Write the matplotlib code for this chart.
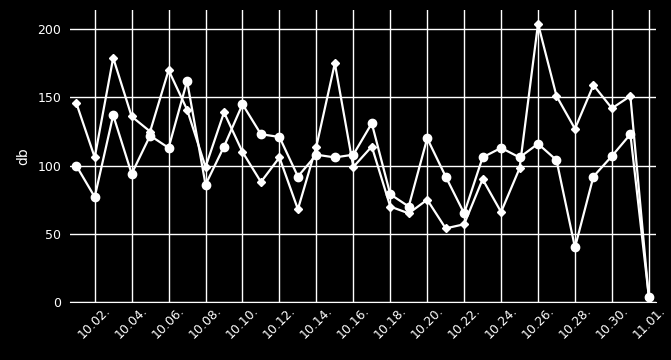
import datetime as dt
import matplotlib
matplotlib.use("Agg")
import matplotlib.pyplot as plt
import matplotlib.dates as mdates

# days 10.01. .. 11.01.
start = dt.date(2023, 10, 1)
days = [start + dt.timedelta(days=i) for i in range(32)]

circle_vals = [100, 77, 137, 94, 122, 113, 162, 86, 114, 145,
               123, 121, 92, 108, 106, 108, 131, 79, 70, 120,
               92, 65, 106, 113, 106, 116, 104, 40, 92, 107,
               123, 4]
diamond_vals = [146, 106, 179, 136, 125, 170, 141, 99, 139, 110,
                88, 106, 68, 114, 175, 99, 114, 70, 65, 75,
                54, 57, 90, 66, 98, 204, 151, 127, 159, 142,
                151, 3]

fig = plt.figure(figsize=(6.71, 3.6), dpi=100, facecolor="black")
ax = fig.add_axes([0.104, 0.161, 0.874, 0.811])
ax.set_facecolor("black")

ax.plot(days, diamond_vals, color="white", lw=1.6, marker="D", ms=4, zorder=3)
ax.plot(days, circle_vals, color="white", lw=1.6, marker="o", ms=6, zorder=4)

ax.set_ylim(0, 214)
ax.set_yticks([0, 50, 100, 150, 200])
ax.set_xlim(mdates.date2num(days[0]) - 0.35, mdates.date2num(days[-1]) + 0.4)
ax.set_xticks(days[1::2])
ax.xaxis.set_major_formatter(mdates.DateFormatter("%m.%d."))
plt.setp(ax.get_xticklabels(), rotation=45, ha="center", fontsize=9)

ax.grid(True, color="white", lw=1)
ax.set_axisbelow(True)
for s in ["top", "right", "left"]:
    ax.spines[s].set_visible(False)
ax.spines["bottom"].set_color("white")
ax.tick_params(colors="white", length=0)
ax.tick_params(axis="y", labelsize=9, pad=6)
ax.tick_params(axis="x", pad=1)
ax.set_ylabel("db", color="white", fontsize=10, labelpad=5.5)

fig.savefig("out.png", dpi=100, facecolor="black")
